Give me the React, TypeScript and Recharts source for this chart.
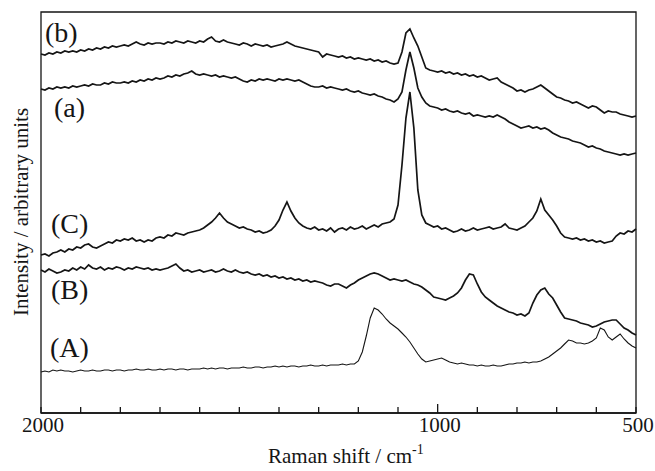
import React from "react";
import { LineChart, Line, XAxis, YAxis, ReferenceArea } from "recharts";

// Raman shift (cm-1), sampled every 10 cm-1
const shifts = [
  2000, 1990, 1980, 1970, 1960, 1950, 1940, 1930, 1920, 1910,
  1900, 1890, 1880, 1870, 1860, 1850, 1840, 1830, 1820, 1810,
  1800, 1790, 1780, 1770, 1760, 1750, 1740, 1730, 1720, 1710,
  1700, 1690, 1680, 1670, 1660, 1650, 1640, 1630, 1620, 1610,
  1600, 1590, 1580, 1570, 1560, 1550, 1540, 1530, 1520, 1510,
  1500, 1490, 1480, 1470, 1460, 1450, 1440, 1430, 1420, 1410,
  1400, 1390, 1380, 1370, 1360, 1350, 1340, 1330, 1320, 1310,
  1300, 1290, 1280, 1270, 1260, 1250, 1240, 1230, 1220, 1210,
  1200, 1190, 1180, 1170, 1160, 1150, 1140, 1130, 1120, 1110,
  1100, 1090, 1080, 1070, 1060, 1050, 1040, 1030, 1020, 1010,
  1000, 990, 980, 970, 960, 950, 940, 930, 920, 910,
  900, 890, 880, 870, 860, 850, 840, 830, 820, 810,
  800, 790, 780, 770, 760, 750, 740, 730, 720, 710,
  700, 690, 680, 670, 660, 650, 640, 630, 620, 610,
  600, 590, 580, 570, 560, 550, 540, 530, 520, 510,
  500,
];

// spectrum (b)
const spectrumLowerB = [
  346, 345, 347, 346, 348, 347, 349, 348, 349, 348,
  350, 349, 351, 350, 352, 351, 353, 352, 354, 353,
  354, 355, 354, 356, 358, 356, 355, 357, 356, 357,
  357, 356, 358, 357, 359, 358, 357, 359, 358, 357,
  359, 358, 361, 363, 359, 358, 360, 358, 357, 356,
  355, 357, 356, 354, 356, 355, 354, 355, 353, 354,
  355, 356, 358, 356, 354, 353, 352, 351, 350, 349,
  348, 343, 346, 345, 344, 343, 344, 342, 343, 341,
  342, 341, 340, 341, 339, 340, 338, 339, 337, 336,
  337, 348, 367, 371, 362, 354, 343, 332, 330, 329,
  328, 329, 327, 328, 326, 327, 325, 326, 324, 325,
  323, 324, 322, 320, 321, 322, 318, 316, 314, 312,
  309, 310, 308, 310, 311, 313, 315, 312, 309, 306,
  303, 302, 300, 299, 297, 298, 296, 294, 292, 294,
  293, 290, 287, 289, 288, 288, 286, 285, 284, 283,
  284,
];

// spectrum (a)
const spectrumLowerA = [
  311, 310, 312, 311, 313, 312, 313, 312, 314, 313,
  314, 315, 314, 316, 315, 315, 317, 316, 318, 317,
  317, 318, 317, 319, 318, 320, 319, 321, 320, 322,
  321, 322, 324, 323, 325, 324, 326, 327, 329, 326,
  325, 326, 325, 324, 325, 323, 324, 323, 322, 323,
  321, 319, 318, 320, 319, 321, 320, 321, 320, 319,
  321, 320, 321, 320, 319, 320, 318, 316, 314, 313,
  313, 314, 312, 313, 312, 311, 310, 311, 309, 308,
  309, 307, 306, 305, 306, 304, 303, 301, 300, 298,
  301, 308, 330, 348, 332, 312, 303, 297, 294, 293,
  292, 290, 291, 289, 288, 289, 287, 286, 287, 284,
  285, 284, 283, 284, 283, 285, 283, 281, 278, 276,
  274, 272, 273, 274, 272, 273, 271, 272, 270, 267,
  265, 263, 262, 261, 259, 258, 257, 255, 253, 254,
  252, 251, 249, 248, 247, 246, 245, 246, 245, 246,
  247,
];

// spectrum (C)
const spectrumUpperC = [
  145, 146, 144, 147, 148, 150, 148, 151, 150, 153,
  152, 155, 156, 153, 152, 154, 156, 158, 157, 160,
  159, 161, 160, 162, 159, 160, 158, 160, 159, 162,
  163, 162, 165, 164, 167, 166, 165, 167, 168, 169,
  170, 172, 175, 178, 182, 187, 182, 178, 176, 174,
  172, 173, 171, 170, 168, 169, 167, 168, 170, 174,
  180, 190, 198, 189, 182, 177, 174, 172, 171, 173,
  170, 171, 169, 172, 168, 171, 172, 170, 173, 171,
  172, 174, 171, 173, 175, 173, 176, 177, 178, 181,
  195, 235, 282, 308, 272, 210, 185, 177, 175, 173,
  174, 171, 172, 170, 168, 169, 171, 169, 170, 172,
  170, 171, 172, 173, 171, 172, 173, 176, 172, 171,
  170, 172, 174, 178, 182, 189, 201, 190, 185, 180,
  174, 167, 163, 162, 161, 162, 160, 161, 159, 160,
  158, 159, 157, 158, 159, 164, 167, 166, 169, 168,
  171,
];

// spectrum (B)
const spectrumUpperB = [
  130, 128, 131, 129, 127, 128, 130, 129, 132, 130,
  133, 131, 135, 132, 131, 133, 130, 132, 131, 133,
  132, 130, 132, 131, 133, 132, 131, 132, 130, 131,
  130, 131, 132, 134, 136, 132, 129, 130, 128, 129,
  130, 128, 129, 130, 128, 129, 131, 129, 128, 130,
  128, 127, 128, 126, 125, 126, 124, 125, 123, 124,
  122, 123, 121, 122, 120, 121, 119, 120, 118, 119,
  118, 117, 115, 114, 116, 116, 114, 112, 115, 117,
  120, 122, 124, 126, 127, 126, 124, 122, 120, 121,
  120, 119, 120, 118, 116, 115, 113, 110, 107, 103,
  102, 101, 100, 102, 104, 107, 112, 120, 126, 125,
  116, 108, 103, 100, 97, 94, 92, 90, 88, 87,
  85, 86, 84, 87, 97, 105, 110, 112, 106, 102,
  95, 88, 82, 81, 80, 79, 77, 76, 75, 73,
  74, 76, 78, 79, 80, 80, 76, 72, 70, 67,
  65,
];

// spectrum (A)
const spectrumUpperA = [
  28, 29, 28, 30, 29, 30, 29, 29, 28, 29,
  30, 29, 29, 30, 29, 29, 30, 30, 29, 30,
  30, 29, 30, 30, 31, 30, 30, 31, 30, 30,
  31, 30, 31, 31, 30, 31, 31, 30, 31, 31,
  31, 32, 31, 32, 31, 32, 32, 31, 32, 32,
  32, 33, 32, 32, 33, 33, 32, 33, 33, 34,
  33, 34, 33, 34, 34, 33, 34, 34, 35, 34,
  34, 35, 34, 35, 35, 35, 36, 35, 36, 36,
  39, 48, 64, 82, 92, 90, 86, 81, 77, 74,
  71, 67, 63, 58, 52, 46, 41, 38, 39, 40,
  41, 42, 40, 38, 37, 36, 37, 36, 35, 35,
  34, 35, 34, 34, 35, 34, 34, 35, 36, 36,
  37, 37, 38, 37, 38, 38, 39, 41, 43, 46,
  49, 52, 56, 60, 59, 57, 57, 56, 57, 59,
  62, 72, 70, 63, 60, 63, 66, 61, 57, 54,
  52,
];

const tickValues = [2000, 1900, 1800, 1700, 1600, 1500, 1400, 1300, 1200, 1100, 1000, 900, 800, 700, 600, 500];
const labelledTicks = [2000, 1000, 500];

const data = shifts.map((w, i) => ({
  w,
  sb: spectrumLowerB[i],
  sa: spectrumLowerA[i],
  sC: spectrumUpperC[i],
  sB: spectrumUpperB[i],
  sA: spectrumUpperA[i],
}));

const SERIF = "'Liberation Serif', 'Times New Roman', serif";
const INK = "#151515";

const Tick = (props: any) => {
  const { x, y, payload } = props;
  const v = payload.value;
  const len = v === 1000 ? 9 : 6;
  return (
    <g>
      <line x1={x} x2={x} y1={y} y2={y - len} stroke={INK} strokeWidth={1.3} />
      {labelledTicks.includes(v) ? (
        <text x={x + 2} y={y + 19} textAnchor="middle" fontFamily={SERIF} fontSize={21} fill={INK}>
          {v}
        </text>
      ) : null}
    </g>
  );
};

export default function App() {
  return (
    <div style={{ position: "absolute", left: 0, top: 0, width: 655, height: 471, background: "#fff" }}>
      <LineChart width={655} height={471} data={data} margin={{ top: 12, right: 19, bottom: 28, left: 41 }}>
        <XAxis
          dataKey="w"
          type="number"
          domain={[500, 2000]}
          reversed
          ticks={tickValues}
          interval={0}
          height={30}
          tickSize={0}
          tickMargin={0}
          tickLine={false}
          axisLine={{ stroke: INK, strokeWidth: 1.3 }}
          tick={<Tick />}
        />
        <YAxis hide type="number" domain={[-13, 388]} width={0} />
        <ReferenceArea x1={2000} x2={500} y1={-13} y2={388} fill="none" stroke={INK} strokeWidth={1.3} />
        <Line type="linear" dataKey="sb" stroke={INK} strokeWidth={1.7} dot={false} isAnimationActive={false} />
        <Line type="linear" dataKey="sa" stroke={INK} strokeWidth={1.7} dot={false} isAnimationActive={false} />
        <Line type="linear" dataKey="sC" stroke={INK} strokeWidth={1.7} dot={false} isAnimationActive={false} />
        <Line type="linear" dataKey="sB" stroke={INK} strokeWidth={1.7} dot={false} isAnimationActive={false} />
        <Line type="linear" dataKey="sA" stroke={INK} strokeWidth={1.1} dot={false} isAnimationActive={false} />
      </LineChart>
      <svg
        width={655}
        height={471}
        style={{ position: "absolute", left: 0, top: 0, pointerEvents: "none" }}
        fontFamily={SERIF}
        fill={INK}
      >
        <text x={45} y={42} fontSize={28}>(b)</text>
        <text x={54} y={117} fontSize={28}>(a)</text>
        <text x={51} y={233} fontSize={28}>(C)</text>
        <text x={51} y={299} fontSize={28}>(B)</text>
        <text x={50} y={357} fontSize={28}>(A)</text>
        <text x={268} y={463} fontSize={21}>
          Raman shift / cm<tspan dy={-9} fontSize={14}>-1</tspan>
        </text>
        <text x={28} y={212} fontSize={21} textAnchor="middle" transform="rotate(-90 28 212)">
          Intensity / arbitrary units
        </text>
      </svg>
    </div>
  );
}
